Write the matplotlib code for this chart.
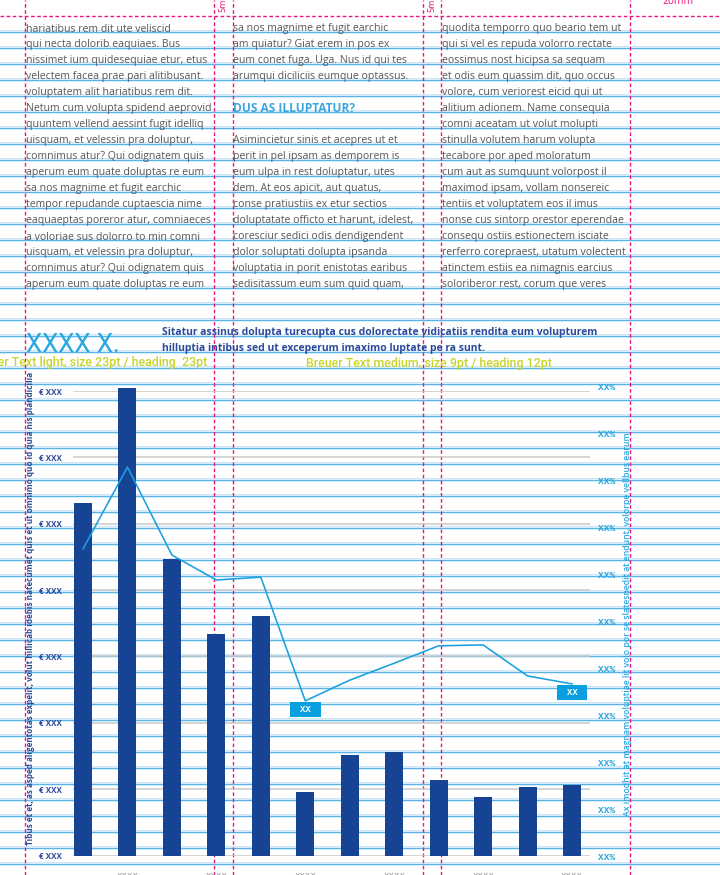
import matplotlib
matplotlib.use("Agg")
import matplotlib.pyplot as plt
from matplotlib.patches import Rectangle
from matplotlib.transforms import IdentityTransform, ScaledTranslation

plt.rcParams['font.family'] = ['Open Sans', 'DejaVu Sans']

# ---------------- data ----------------
bar_values = [5.31, 7.04, 4.47, 3.34, 3.61, 0.96, 1.51, 1.56, 1.14, 0.88, 1.03, 1.06]
line_values = [6.55, 8.29, 6.42, 5.89, 5.95, 3.32, 3.76, 4.12, 4.49, 4.51, 3.85, 3.68]
left_tick_labels = ["€ XXX"] * 8
right_tick_labels = ["XX%"] * 11
x_labels = ["", "xxxx", "", "xxxx", "", "xxxx", "", "xxxx", "", "xxxx", "", "xxxx"]
callouts = {5: "XX", 11: "XX"}

col1 = [
    "hariatibus rem dit ute veliscid",
    "qui necta dolorib eaquiaes. Bus",
    "nissimet ium quidesequiae etur, etus",
    "velectem facea prae pari alitibusant.",
    "voluptatem alit hariatibus rem dit.",
    "Netum cum volupta spidend aeprovid",
    "quuntem vellend aessint fugit idelliq",
    "uisquam, et velessin pra doluptur,",
    "comnimus atur? Qui odignatem quis",
    "aperum eum quate doluptas re eum",
    "sa nos magnime et fugit earchic",
    "tempor repudande cuptaescia nime",
    "eaquaeptas poreror atur, comniaeces",
    "a voloriae sus dolorro to min comni",
    "uisquam, et velessin pra doluptur,",
    "comnimus atur? Qui odignatem quis",
    "aperum eum quate doluptas re eum",
]
col2 = [
    "sa nos magnime et fugit earchic",
    "am quiatur? Giat erem in pos ex",
    "eum conet fuga. Uga. Nus id qui tes",
    "arumqui diciliciis eumque optassus.",
    "",
    None,
    "",
    "Asimincietur sinis et acepres ut et",
    "perit in pel ipsam as demporem is",
    "eum ulpa in rest doluptatur, utes",
    "dem. At eos apicit, aut quatus,",
    "conse pratiustiis ex etur sectios",
    "doluptatate officto et harunt, idelest,",
    "coresciur sedici odis dendigendent",
    "dolor soluptati dolupta ipsanda",
    "voluptatia in porit enistotas earibus",
    "sedisitassum eum sum quid quam,",
]
col2_heading = "DUS AS ILLUPTATUR?"
col3 = [
    "quodita temporro quo beario tem ut",
    "qui si vel es repuda volorro rectate",
    "eossimus nost hicipsa sa sequam",
    "et odis eum quassim dit, quo occus",
    "volore, cum veriorest eicid qui ut",
    "alitium adionem. Name consequia",
    "comni aceatam ut volut molupti",
    "stinulla volutem harum volupta",
    "tecabore por aped moloratum",
    "cum aut as sumquunt volorpost il",
    "maximod ipsam, vollam nonsereic",
    "tentiis et voluptatem eos il imus",
    "nonse cus sintorp orestor eperendae",
    "consequ ostiis estionectem isciate",
    "rerferro corepraest, utatum volectent",
    "atinctem estiis ea nimagnis earcius",
    "soloriberor rest, corum que veres",
]
title_big = "XXXX X."
title_sub = ["Sitatur assinus dolupta turecupta cus dolorectate vidicatiis rendita eum volupturem",
             "hilluptia intibus sed ut exceperum imaximo luptate pe ra sunt."]
note_left = "Breuer Text light, size 23pt / heading  23pt"
note_right = "Breuer Text medium, size 9pt / heading 12pt"
left_axis_text = ("Tibus et et, as asped aligentotas expelit, volut hillicab idebis natecumet "
                  "quis et ut omnimo quo id quia nis plandicilia")
right_axis_text = ("Ax imodhit at magnam voluptiae lit volo por se slatesnedit at endunt, "
                   "volorpe vellbus earum")

# ---------------- colours ----------------
GRID_BLUE = "#5ab4e6"
GRID_BLUE_LIGHT = "#cde8f7"
PINK = "#e8177f"
BODY = "#585858"
CYAN = "#2aa6e0"
DARK_BLUE = "#2c4b9d"
YELLOW = "#c8d42a"
BAR = "#174395"
LINE = "#1a9fe0"
BOX = "#0a9fe0"
GRAY = "#c9c9c9"

W, H = 720, 875
fig = plt.figure(figsize=(W / 100, H / 100), dpi=100)

# ---------------- background layout layer (pixel coords) ----------------
bg = fig.add_axes([0, 0, 1, 1])
bg.set_xlim(0, W)
bg.set_ylim(H, 0)
bg.axis("off")

baselines = [31.5 + 16 * k for k in range(53)]
for y in baselines:
    bg.axhline(y - 1.3, color=GRID_BLUE_LIGHT, lw=0.7, zorder=1)
    bg.axhline(y, color=GRID_BLUE, lw=1.05, zorder=1)

dash = (0, (2.6, 1.8))
for x in [25, 214, 232.5, 422.5, 441, 630]:
    bg.axvline(x, color=PINK, lw=1.0, ls=dash, zorder=2)
bg.axhline(15.7, color=PINK, lw=1.0, ls=dash, zorder=2)

bg.text(223.3, 12, "5mm", rotation=90, ha="center", va="bottom", color=PINK, fontsize=6.5)
bg.text(431.8, 12, "5mm", rotation=90, ha="center", va="bottom", color=PINK, fontsize=6.5)
bg.text(678, 4, "20mm", ha="center", va="baseline", color=PINK, fontsize=7.5)

body_fs = 7.6
for k, s in enumerate(col1):
    bg.text(25.5, baselines[k], s, ha="left", va="baseline", color=BODY, fontsize=body_fs, zorder=3)
for k, s in enumerate(col2):
    if s is None:
        bg.text(233, baselines[k], col2_heading, ha="left", va="baseline", color="#3ba7de",
                fontsize=8.6, fontweight="bold", zorder=3)
    elif s:
        bg.text(233, baselines[k], s, ha="left", va="baseline", color=BODY, fontsize=body_fs, zorder=3)
for k, s in enumerate(col3):
    bg.text(441.5, baselines[k], s, ha="left", va="baseline", color=BODY, fontsize=body_fs, zorder=3)

bg.text(25.5, 351.5, title_big, ha="left", va="baseline", color=CYAN, fontsize=18.5,
        fontweight="normal", family="Roboto", zorder=3)
bg.text(162, 335.5, title_sub[0], ha="left", va="baseline", color=DARK_BLUE, fontsize=7.45,
        fontweight="bold", zorder=3)
bg.text(162, 351.5, title_sub[1], ha="left", va="baseline", color=DARK_BLUE, fontsize=7.45,
        fontweight="bold", zorder=3)
bg.text(207, 366, note_left, ha="right", va="baseline", color=YELLOW, fontsize=8.9,
        fontweight="medium", family="Roboto", zorder=3)
bg.text(306, 367, note_right, ha="left", va="baseline", color=YELLOW, fontsize=8.9,
        fontweight="medium", family="Roboto", zorder=3)

bg.text(31, 845, left_axis_text, rotation=90, ha="center", va="bottom", color=DARK_BLUE,
        fontsize=5.85, fontweight="bold", zorder=3)
bg.text(627.5, 816, right_axis_text, rotation=90, ha="center", va="bottom", color=CYAN,
        fontsize=6.2, fontweight="semibold", zorder=3)

# ---------------- chart ----------------
n = len(bar_values)
xs = list(range(n))
xlim = (-0.225, 11.405)
ax_left, ax_w = 73 / W, 517 / W

ax = fig.add_axes([ax_left, (H - 855.5) / H, ax_w, (855.5 - 391) / H])
ax.patch.set_alpha(0)
ax.bar(xs, bar_values, width=0.405, color=BAR, zorder=3, clip_on=False)
ax.set_xlim(*xlim)
ax.set_ylim(0, 7)
ax.set_yticks(range(len(left_tick_labels)))
ax.set_yticklabels(left_tick_labels, fontsize=5.8, fontweight="bold", color=DARK_BLUE)
ax.tick_params(axis="y", length=0, pad=7.9)
ax.set_xticks([])
ax.yaxis.grid(True, color=GRAY, lw=1.1)
ax.set_axisbelow(True)
for sp in ax.spines.values():
    sp.set_visible(False)
for i, lab in enumerate(x_labels):
    if lab:
        ax.annotate(lab, xy=(i, 0), xytext=(0, -22), textcoords="offset pixels",
                    ha="center", va="baseline", color="#8c8c8c", fontsize=6.6,
                    family="Liberation Mono", annotation_clip=False)

ax2 = fig.add_axes([ax_left, (H - 857) / H, ax_w, (857 - 386.7) / H])
ax2.patch.set_alpha(0)
ax2.plot(xs, line_values, color=LINE, lw=1.15, clip_on=False, zorder=4)
ax2.set_xlim(*xlim)
ax2.set_ylim(0, 10)
ax2.set_xticks([])
ax2.yaxis.tick_right()
ax2.set_yticks(range(len(right_tick_labels)))
ax2.set_yticklabels(right_tick_labels, fontsize=6.8, color=CYAN, fontweight="bold",
                    family="Liberation Mono")
ax2.tick_params(axis="y", length=0, pad=5.8)
for sp in ax2.spines.values():
    sp.set_visible(False)

for i, txt in callouts.items():
    trans = IdentityTransform() + ScaledTranslation(i, line_values[i], ax2.transData)
    rect = Rectangle((-15.35, -15.7), 30.7, 14.7, transform=trans, facecolor=BOX,
                     edgecolor="none", zorder=5)
    fig.add_artist(rect)
    fig.text(0, -8.35, txt, transform=trans, ha="center", va="center", color="white",
             fontsize=6.5, fontweight="bold", family="Liberation Mono", zorder=6)

fig.savefig("out.png", dpi=100)
